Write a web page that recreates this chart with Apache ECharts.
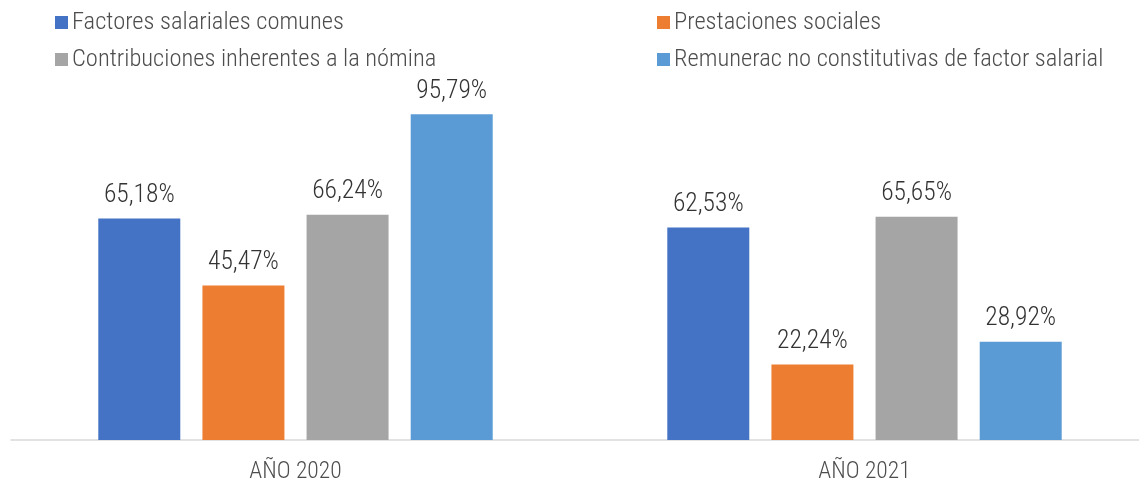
<!DOCTYPE html>
<html><head><meta charset="utf-8">
<script src="https://cdn.jsdelivr.net/npm/echarts@6/dist/echarts.min.js"></script>
<style>html,body{margin:0;padding:0;background:#fff;overflow:hidden}#c{width:1152px;height:487px}</style>
</head><body><div id="c"></div>
<script>
const categories = ['AÑO 2020', 'AÑO 2021'];
const seriesNames = ['Factores salariales comunes', 'Prestaciones sociales', 'Contribuciones inherentes a la nómina', 'Remunerac no constitutivas de factor salarial'];
const factores = [65.18, 62.53];
const prestaciones = [45.47, 22.24];
const contribuciones = [66.24, 65.65];
const remunerac = [95.79, 28.92];
const colors = ['#4472C4', '#ED7D31', '#A5A5A5', '#5B9BD5'];

const FONT = "'Roboto Condensed', sans-serif";
const values = [factores, prestaciones, contribuciones, remunerac];
const legendPos = [[50, 5], [652, 5], [50, 42], [652, 42]];

const chart = echarts.init(document.getElementById('c'));
chart.setOption({
  animation: false,
  textStyle: { fontFamily: FONT },
  legend: seriesNames.map((n, i) => ({
    data: [n], left: legendPos[i][0], top: legendPos[i][1],
    itemWidth: 13, itemHeight: 13, itemGap: 0, icon: 'rect',
    textStyle: { fontFamily: FONT, fontSize: 24.5, fontWeight: 300, color: '#4d4d4d', padding: [0, 0, 0, -1] }
  })),
  grid: { left: 11, width: 1138, top: 100, bottom: 47, containLabel: false },
  xAxis: {
    type: 'category', data: categories,
    axisLine: { lineStyle: { color: '#D9D9D9', width: 1.5 } },
    axisTick: { show: false },
    axisLabel: { fontFamily: FONT, fontSize: 23.5, fontWeight: 300, color: '#4d4d4d', margin: 20 }
  },
  yAxis: { type: 'value', min: 0, max: 100, show: false, splitLine: { show: false } },
  series: seriesNames.map((n, i) => ({
    name: n, type: 'bar', data: values[i],
    itemStyle: { color: colors[i] },
    barWidth: 82, barGap: '27%',
    label: {
      show: true, position: 'top', distance: 10,
      fontFamily: FONT, fontSize: 25.5, fontWeight: 300, color: '#333333',
      formatter: p => p.value.toFixed(2).replace('.', ',') + '%'
    }
  }))
});
</script></body></html>
